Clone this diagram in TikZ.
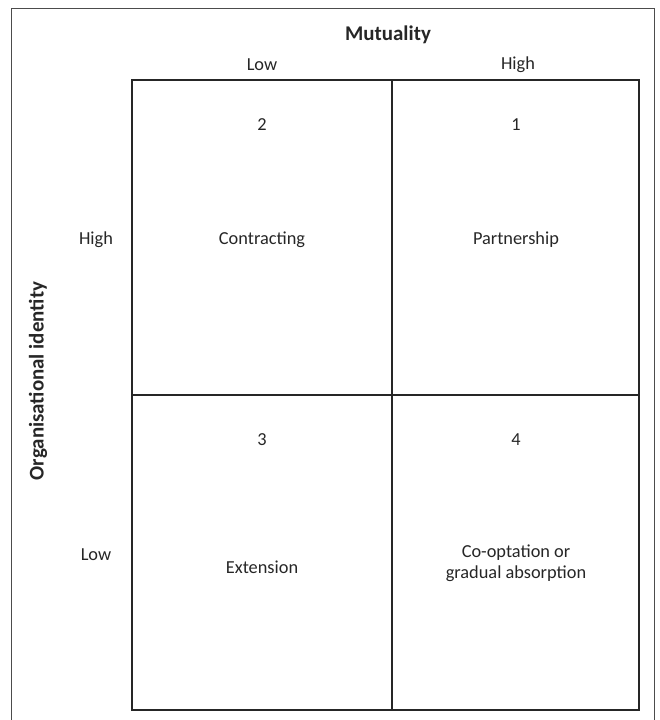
\documentclass[tikz,border=0pt]{standalone}
\usepackage{fontspec}
\setmainfont{Carlito}
\begin{document}
\begin{tikzpicture}[x=1bp,y=-1bp,
  lbl/.style={text=black!85, font=\fontsize{18.4}{21.5}\selectfont, inner sep=0pt},
  hdr/.style={text=black!85, font=\fontsize{21}{25}\selectfont\bfseries, inner sep=0pt},
  gridline/.style={draw=black!85, line width=1.4bp}]
\useasboundingbox (0,0) rectangle (660,720);
\draw[black!70, line width=1bp] (11,720) -- (11,9) -- (654,9) -- (654,720);

\draw[gridline] (132,80) rectangle (639,710);
\draw[gridline] (392,80) -- (392,710);
\draw[gridline] (132,395) -- (639,395);

\node[hdr] (mut) at (388,35) {Mutuality};
\node[lbl] (colLow) at (262,65) {Low};
\node[lbl] (colHigh) at (518,65) {High};

\node[hdr, rotate=90] (org) at (38,381) {Organisational identity};
\node[lbl] (rowHigh) at (96,240) {High};
\node[lbl] (rowLow) at (96,555) {Low};

\node[lbl] (num2) at (262,125) {2};
\node[lbl] (num1) at (516,125) {1};
\node[lbl] (num3) at (262,440) {3};
\node[lbl] (num4) at (516,440) {4};

\node[lbl] (contr) at (262,240) {Contracting};
\node[lbl] (partn) at (516,240) {Partnership};
\node[lbl] (ext) at (262,567) {Extension};
\node[lbl, align=center] (coopt) at (516,563) {Co-optation or\\gradual absorption};
\end{tikzpicture}
\end{document}
